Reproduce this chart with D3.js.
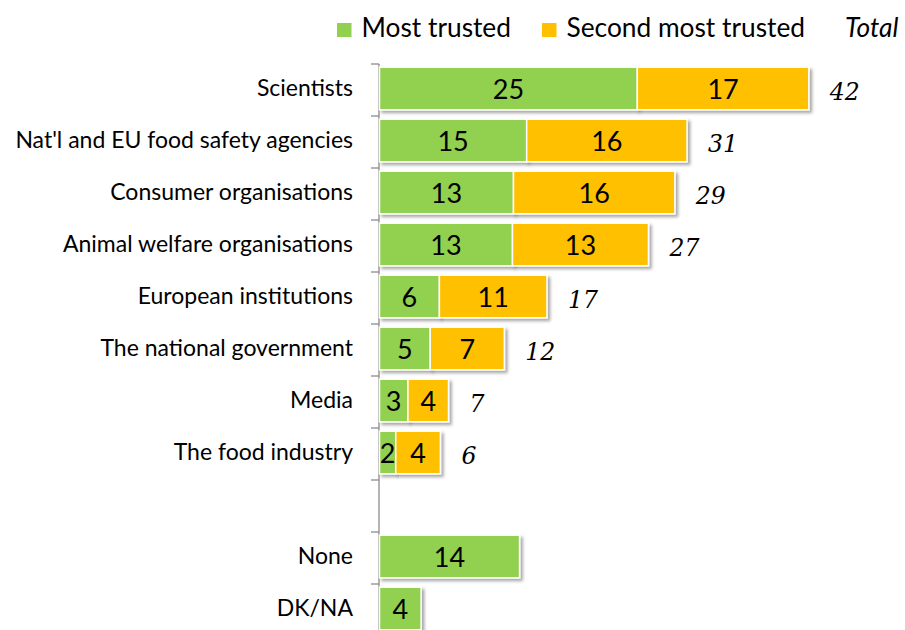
<!DOCTYPE html>
<html><head><meta charset="utf-8">
<script src="https://cdn.jsdelivr.net/npm/d3@7"></script>
<style>
html,body{margin:0;padding:0;background:#fff;}
svg{display:block;}
</style></head>
<body>
<svg id="chart" width="905" height="630"></svg>
<script>
const categories = ["Scientists","Nat'l and EU food safety agencies","Consumer organisations","Animal welfare organisations","European institutions","The national government","Media","The food industry","","None","DK/NA"];
// bar lengths as drawn (unrounded); labels shown rounded
const mostTrusted = [25.4,14.5,13.2,13.1,5.9,5.0,2.8,1.6,null,13.8,4.1];
const secondTrusted = [16.9,15.8,15.9,13.4,10.6,7.3,4.0,4.4,null,null,null];
const totals = [42,31,29,27,17,12,7,6,null,null,null];
const seriesNames = ["Most trusted","Second most trusted"];
const totalLabel = "Total";

const colors = ["#92D050","#FFC000"];
const sansFont = "Lato, 'Open Sans', sans-serif";
const svg = d3.select("#chart");

const keys = categories.map((c,i)=> c === "" ? "__blank"+i : c);
const x = d3.scaleLinear().domain([0,42]).range([379.5, 379.5 + 42*10.15]);
const y = d3.scaleBand().domain(keys).range([62.5, 634.5]).paddingInner(0.18).paddingOuter(0.09);
const yB = d3.scaleBand().domain(keys).range([64, 636]).padding(0);

const defs = svg.append("defs");
const f = defs.append("filter").attr("id","shadow").attr("x","-10%").attr("y","-20%").attr("width","130%").attr("height","160%");
f.append("feDropShadow").attr("dx",2.5).attr("dy",2.5).attr("stdDeviation",1.6).attr("flood-color","#000").attr("flood-opacity",0.35);

// axis labels
const axis = svg.append("g").attr("transform",`translate(${x(0)},0)`)
  .call(d3.axisLeft(y).tickSize(0).tickPadding(26.5).tickFormat((d,i)=>categories[i]));
axis.select(".domain").remove();
axis.selectAll("text").attr("font-family",sansFont).attr("font-size",23).attr("fill","#000").attr("dy","0.33em");

const axG = svg.append("g");
axG.append("line").attr("x1",x(0)-0.5).attr("x2",x(0)-0.5).attr("y1",yB.range()[0]).attr("y2",630).attr("stroke","#8c8c8c").attr("stroke-width",1.3);
const bounds = keys.map(k=>yB(k));
axG.selectAll("line.tk").data(bounds).enter().append("line").attr("class","tk")
  .attr("x1",x(0)-8.5).attr("x2",x(0)-0.5).attr("y1",d=>d).attr("y2",d=>d)
  .attr("stroke","#8c8c8c").attr("stroke-width",1.3);

// bars
const rows = keys.map((k,i)=>({k, a:mostTrusted[i], b:secondTrusted[i], t:totals[i]}));
const barsG = svg.append("g");
rows.forEach(r=>{
  if(r.a==null) return;
  const segs = [{v0:0,v1:r.a,val:r.a,c:colors[0]}];
  if(r.b!=null) segs.push({v0:r.a,v1:r.a+r.b,val:r.b,c:colors[1]});
  segs.forEach(s=>{
    barsG.append("rect").attr("x",x(s.v0)).attr("y",y(r.k)).attr("width",x(s.v1)-x(s.v0)).attr("height",y.bandwidth())
      .attr("fill",s.c).attr("stroke","#fff").attr("stroke-width",1.5).attr("filter","url(#shadow)");
  });
  const cy = y(r.k)+y.bandwidth()/2;
  segs.forEach(s=>{
    barsG.append("text").attr("x",(x(s.v0)+x(s.v1))/2).attr("y",cy+10)
      .attr("text-anchor","middle").attr("font-family",sansFont).attr("font-size",27).attr("fill","#000").text(Math.round(s.val));
  });
  if(r.t!=null){
    const end = segs[segs.length-1].v1;
    barsG.append("text").attr("x",x(end)+21).attr("y",cy+11)
      .attr("font-family","'DejaVu Serif', Georgia, serif").attr("font-style","italic").attr("font-size",23.5).attr("fill","#000").text(r.t);
  }
});

// legend
const lg = svg.append("g");
const legendItems = [{name:seriesNames[0],c:colors[0],x:337},{name:seriesNames[1],c:colors[1],x:542}];
legendItems.forEach(it=>{
  lg.append("rect").attr("x",it.x).attr("y",23).attr("width",14.5).attr("height",14).attr("fill",it.c);
  lg.append("text").attr("x",it.x+24.5).attr("y",37).attr("font-family",sansFont).attr("font-size",26.3).attr("fill","#000").text(it.name);
});
lg.append("text").attr("x",845).attr("y",37).attr("font-family",sansFont).attr("font-style","italic").attr("font-size",26.3).attr("fill","#000").text(totalLabel);
</script>
</body></html>
